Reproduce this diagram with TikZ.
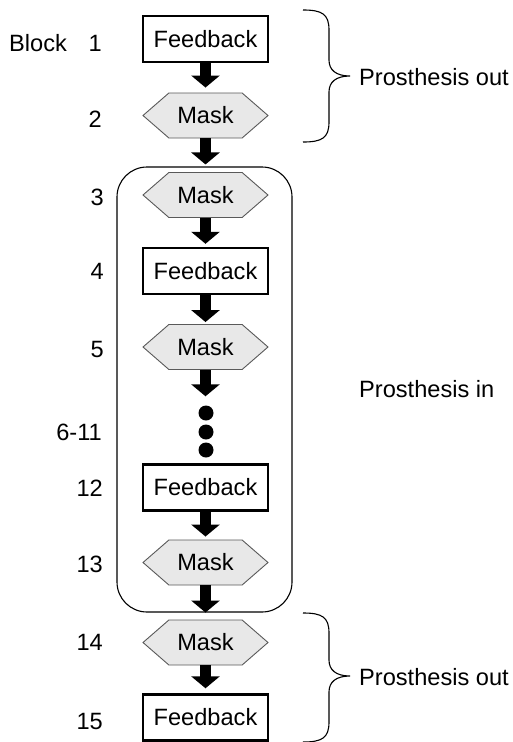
\documentclass[tikz,border=0pt]{standalone}
\usepackage{fontspec}
\setmainfont{Liberation Sans}
\usetikzlibrary{arrows.meta,shapes.symbols}
\begin{document}
\begin{tikzpicture}[x=1pt,y=-1pt,
  every node/.style={font=\fontsize{23.6}{28}\selectfont, inner sep=0pt},
  fbbox/.style={draw=black, line width=2.4pt, minimum width=125pt, minimum height=46pt},
  maskhex/.style={draw=black!65, line width=0.9pt, fill=black!9, shape=signal,
     signal to=east and west, signal pointer angle=82, minimum width=125pt, minimum height=45pt},
  blockarrow/.style={line width=11pt, -{Triangle[width=28pt,length=12pt]}},
  lbl/.style={anchor=east},
  dotnode/.style={circle, fill=black, minimum size=15pt}
]
\useasboundingbox (0,0) rectangle (512,742);
% in-box
\node[draw=black, line width=1.1pt, rounded corners=30pt, minimum width=175pt, minimum height=445pt] (inbox) at (204.5,389.5) {};
% nodes
\node[fbbox] (fb1) at (205.5,39) {Feedback};
\node[maskhex] (m2) at (205.5,115.5) {Mask};
\node[maskhex] (m3) at (205.5,195) {Mask};
\node[fbbox] (fb4) at (205.5,271) {Feedback};
\node[maskhex] (m5) at (205.5,347) {Mask};
\node[dotnode] (d1) at (206,413) {};
\node[dotnode] (d2) at (206,432) {};
\node[dotnode] (d3) at (206,450) {};
\node[fbbox] (fb12) at (205.5,487.5) {Feedback};
\node[maskhex] (m13) at (205.5,562.5) {Mask};
\node[maskhex] (m14) at (205.5,642.5) {Mask};
\node[fbbox] (fb15) at (205.5,717.5) {Feedback};
% arrows
\draw[blockarrow, shorten >=5pt] (fb1.south) -- (m2.north);
\draw[blockarrow, shorten >=2pt] (m2.south) -- (m2.south |- inbox.north);
\draw[blockarrow, shorten >=3pt] (m3.south) -- (fb4.north);
\draw[blockarrow, shorten >=2pt] (fb4.south) -- (m5.north);
\draw[blockarrow, shorten >=9pt] (m5.south) -- (m5.south |- d1.north);
\draw[blockarrow, shorten >=3pt] (fb12.south) -- (m13.north);
\draw[blockarrow] (m13.south) -- (m13.south |- inbox.south);
\draw[blockarrow, shorten >=5pt] (m14.south) -- (fb15.north);
% labels
\node[anchor=west] (blk) at (9,43) {Block};
\node[lbl] (l1) at (102,43) {1};
\node[lbl] (l2) at (102,119) {2};
\node[lbl] (l3) at (104,197) {3};
\node[lbl] (l4) at (104,271) {4};
\node[lbl] (l5) at (104,349) {5};
\node[lbl] (l6) at (102,432) {6-11};
\node[lbl] (l12) at (103,488) {12};
\node[lbl] (l13) at (103,564) {13};
\node[lbl] (l14) at (103,642) {14};
\node[lbl] (l15) at (103,721) {15};
% braces
\draw[line width=1.1pt] (303,10) .. controls (322,10) and (329,14) .. (329,30) -- (329,60)
   .. controls (329,70) and (336,76) .. (350,76)
   .. controls (336,76) and (329,82) .. (329,92) -- (329,122)
   .. controls (329,138) and (322,142) .. (303,142);
\draw[line width=1.1pt] (303,613) .. controls (322,613) and (329,617) .. (329,633) -- (329,660)
   .. controls (329,670) and (336,676) .. (350,676)
   .. controls (336,676) and (329,682) .. (329,692) -- (329,722)
   .. controls (329,738) and (322,742) .. (303,742);
\node[anchor=west] (po1) at (359,77) {Prosthesis out};
\node[anchor=west] (pin) at (359,389) {Prosthesis in};
\node[anchor=west] (po2) at (359,677) {Prosthesis out};
\end{tikzpicture}
\end{document}
